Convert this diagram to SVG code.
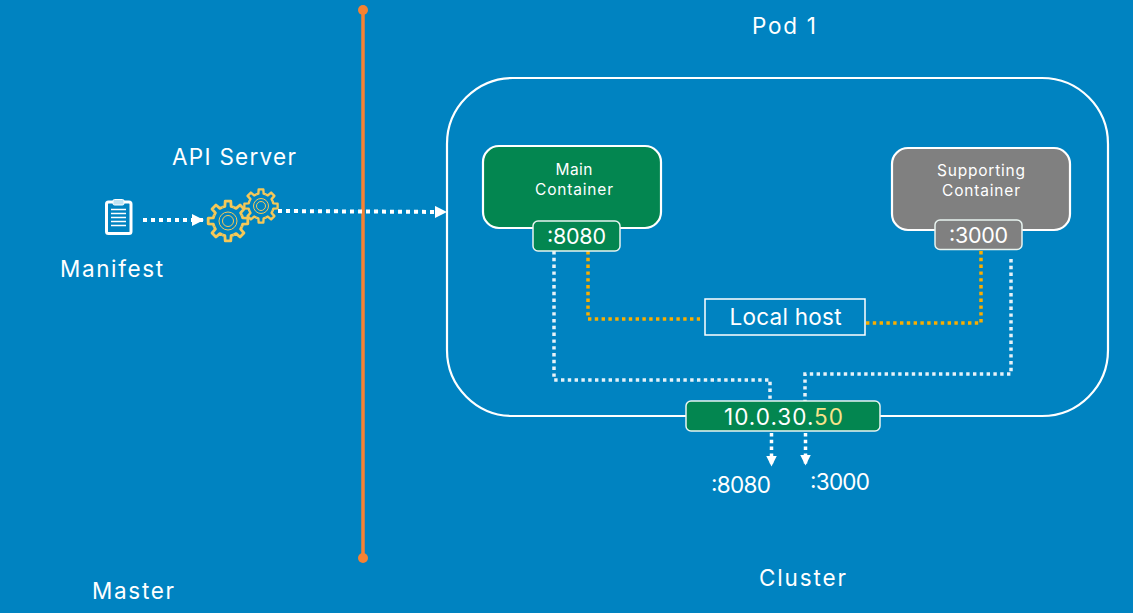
<svg xmlns="http://www.w3.org/2000/svg" xmlns:xlink="http://www.w3.org/1999/xlink" width="1133" height="613" viewBox="0 0 1133 613">
<style>
text{font-family:"Inter","Open Sans","Liberation Sans",sans-serif;fill:#fff;text-anchor:middle;font-weight:400}
.l{font-size:22.5px}
.s{font-size:15.500px}
.p{font-size:21.500px}
.box{stroke:#fff;stroke-width:2.200}
.thin{stroke:#e8f4f0;stroke-width:1.500}
.w{fill:none;stroke:#fff;stroke-width:4;stroke-dasharray:4 4}
.wl{fill:none;stroke:#fff;stroke-width:3.500;stroke-dasharray:3.400 3.400}
.wt{fill:none;stroke:#e6f2f8;stroke-width:3.500;stroke-dasharray:3.400 3.400}
.y{fill:none;stroke:#f9ae00;stroke-width:3.500;stroke-dasharray:3.400 3.400}
.g{fill:none;stroke:#f5c858;stroke-width:2.800;stroke-linejoin:round}
.r{fill:none;stroke:#f5c858;stroke-width:1}
</style>
<defs>
<marker id="a" markerUnits="userSpaceOnUse" markerWidth="13" markerHeight="12" refX="12" refY="6" orient="auto"><path d="M0 0L12 6L0 12Z" fill="#fff"/></marker>
<marker id="b" markerUnits="userSpaceOnUse" markerWidth="11" markerHeight="11" refX="10.500" refY="5.500" orient="auto"><path d="M0 0L11 5.500L0 11Z" fill="#fff"/></marker>
<polyline id="tooth" points="13.86,-5.74 14.67,-3.12 19.8,-2.78 19.8,2.78 14.67,3.12 13.86,5.74"/>
<g id="gear">
<use xlink:href="#tooth" href="#tooth"/>
<use href="#tooth" xlink:href="#tooth" transform="rotate(45)"/>
<use href="#tooth" xlink:href="#tooth" transform="rotate(90)"/>
<use href="#tooth" xlink:href="#tooth" transform="rotate(135)"/>
<use href="#tooth" xlink:href="#tooth" transform="rotate(180)"/>
<use href="#tooth" xlink:href="#tooth" transform="rotate(225)"/>
<use href="#tooth" xlink:href="#tooth" transform="rotate(270)"/>
<use href="#tooth" xlink:href="#tooth" transform="rotate(315)"/>
</g>
</defs>
<rect width="1133" height="613" fill="#0083c1"/>
<g id="divider"><line x1="363" y1="10" x2="363" y2="558" stroke="#f58233" stroke-width="3.500"/><circle cx="363" cy="10" r="5" fill="#f58233"/><circle cx="363" cy="558" r="5" fill="#f58233"/></g>
<g id="pod"><rect x="447" y="78" width="661" height="338" rx="66" fill="none" stroke="#fff" stroke-width="2.200"/></g>
<g id="connectors">
<path class="w" d="M143 220H204" marker-end="url(#a)"/>
<path class="w" d="M278 211L447 212" marker-end="url(#a)"/>
<path class="wt" d="M554 251V380H770V401"/>
<path class="wt" d="M1011 259V374H805V401"/>
<path class="y" d="M588 251V319H700"/>
<path class="y" d="M981 251V323H863"/>
<path class="wl" d="M771.500 433V466" marker-end="url(#b)"/>
<path class="wl" d="M805.500 433V465" marker-end="url(#b)"/>
</g>
<g id="manifest">
<rect x="106.500" y="202" width="24.500" height="31.500" rx="2" fill="none" stroke="#fff" stroke-width="3"/>
<rect x="113" y="199.500" width="11" height="5.500" rx="1.500" fill="#bfe3f3" stroke="#fff" stroke-width="1"/>
<path d="M111 209.500H126M111 213.500H126M111 217.500H126M111 221.500H126M111 225.500H126" stroke="#fff" stroke-width="1.500" fill="none"/>
<text class="l" x="111.500" y="277" textLength="103">Manifest</text>
</g>
<g id="api-server">
<use href="#gear" xlink:href="#gear" class="g" transform="translate(228 221)"/>
<circle class="r" cx="228" cy="221" r="9"/><circle class="r" cx="228" cy="221" r="5.500"/>
<use href="#gear" xlink:href="#gear" class="g" transform="translate(261 206) scale(.84)"/>
<circle class="r" cx="261" cy="206" r="7.500"/><circle class="r" cx="261" cy="206" r="4.500"/>
<text class="l" x="234" y="164.500" textLength="124">API Server</text>
</g>
<g id="main-container">
<rect class="box" x="483" y="146" width="178" height="82" rx="16" fill="#038650"/>
<text class="s" x="574" y="175" textLength="37">Main</text>
<text class="s" x="574" y="195" textLength="78">Container</text>
</g>
<g id="main-port">
<rect class="thin" x="533" y="221" width="87" height="30" rx="5" fill="#038650"/>
<text class="p" x="576.500" y="243.500" textLength="59">:8080</text>
</g>
<g id="supporting-container">
<rect class="box" x="892" y="148" width="178" height="82" rx="16" fill="#808080"/>
<text class="s" x="981" y="176" textLength="88">Supporting</text>
<text class="s" x="981" y="196" textLength="78">Container</text>
</g>
<g id="supporting-port">
<rect class="thin" x="935" y="220" width="87" height="29.500" rx="5" fill="#808080"/>
<text class="p" x="978.500" y="242.500" textLength="59">:3000</text>
</g>
<g id="local-host">
<rect x="705" y="299" width="160" height="36" fill="#0083c1" stroke="#fff" stroke-width="1.500"/>
<text class="l" x="785.500" y="324.500" textLength="112">Local host</text>
</g>
<g id="ip">
<rect class="thin" x="686" y="401" width="194" height="30" rx="5" fill="#038650"/>
<text class="l" x="783.500" y="425" textLength="119">10.0.30.<tspan fill="#f7e38a">50</tspan></text>
</g>
<g id="labels">
<text class="l" x="741" y="492.500" textLength="60">:8080</text>
<text class="l" x="840" y="489.500" textLength="60">:3000</text>
<text class="l" x="784" y="33.500" textLength="64">Pod 1</text>
<text class="l" x="802.500" y="585.500" textLength="87">Cluster</text>
<text class="l" x="133" y="598.500" textLength="82">Master</text>
</g>
</svg>
